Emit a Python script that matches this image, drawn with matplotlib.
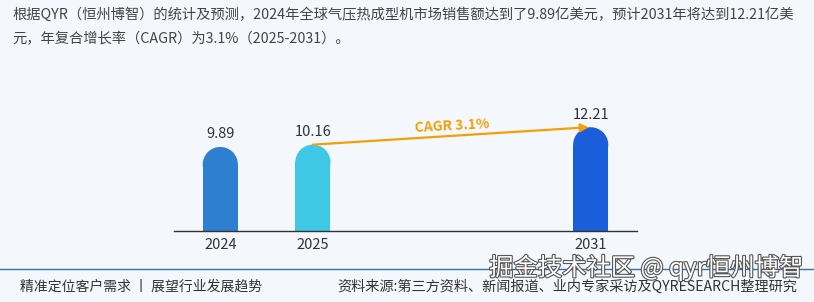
import matplotlib.pyplot as plt
from matplotlib.patches import Ellipse
import matplotlib.patheffects as pe

plt.rcParams['font.family'] = ['Noto Sans CJK SC', 'DejaVu Sans']

# data
years = ['2024', '2025', '2031']
values = [9.89, 10.16, 12.21]
slots = [0, 1, 4]  # 2031 sits three slots right of 2025
colors = ['#2f7fd1', '#3fc8e5', '#1b5edb']
cagr_label = 'CAGR 3.1%'

title = ('根据QYR（恒州博智）的统计及预测，2024年全球气压热成型机市场销售额达到了9.89亿美元，预计2031年将达到12.21亿美\n'
         '元，年复合增长率（CAGR）为3.1%（2025-2031）。')
footer_left = '精准定位客户需求 丨 展望行业发展趋势'
footer_right = '资料来源:第三方资料、新闻报道、业内专家采访及QYRESEARCH整理研究'
stamp = '掘金技术社区 @ qyr恒州博智'

W, H = 814, 302
bg = '#f4f7fb'
fig = plt.figure(figsize=(W / 100, H / 100), dpi=100, facecolor=bg)

# axes placed in pixel terms: x 174..637, baseline at y=231
ax_left, ax_right = 174, 637
ax_bottom, ax_top = 231, 112
ax = fig.add_axes([ax_left / W, 1 - ax_bottom / H,
                   (ax_right - ax_left) / W, (ax_bottom - ax_top) / H])
ax.set_facecolor('none')
ax.set_xlim(-0.5, 4.5)
ax.set_ylim(0, 14)

bar_w = 0.38
# height of the round cap in data units
px_x = (ax_right - ax_left) / 5.0
px_y = (ax_bottom - ax_top) / 14.0
cap = (bar_w * px_x / 2) / px_y

for x, v, c in zip(slots, values, colors):
    ax.bar(x, v - cap, width=bar_w, color=c, linewidth=0)
    ax.add_patch(Ellipse((x, v - cap), bar_w, 2 * cap, color=c, linewidth=0))
    ax.annotate(f'{v:.2f}', (x, v), xytext=(0, 4), textcoords='offset points',
                ha='center', va='bottom', fontsize=10.5, color='#333333')

# CAGR arrow from 2025 to 2031
ax.annotate('', xy=(slots[2] - 0.02, values[2]), xytext=(slots[1], values[1]),
            arrowprops=dict(arrowstyle='-|>', color='#f2a007', lw=1.6,
                            mutation_scale=12, shrinkA=0, shrinkB=0))
ax.text(2.5, 12.35, cagr_label, ha='center', va='center', fontsize=10,
        fontweight='bold', color='#f2a007', rotation=3)

ax.set_xticks(slots)
ax.set_xticklabels(years, fontsize=10.5, color='#333333')
ax.tick_params(axis='x', length=0, pad=5)
ax.set_yticks([])
for s in ['top', 'right', 'left']:
    ax.spines[s].set_visible(False)
ax.spines['bottom'].set_color('#333333')
ax.spines['bottom'].set_linewidth(1)

# title text
fig.text(12 / W, 1 - 7 / H, title, ha='left', va='top', fontsize=10.3,
         color='#444444', linespacing=1.95)

# footer
fig.add_artist(plt.Line2D([0, 1], [1 - 269 / H, 1 - 269 / H], color='#3a6fa6', lw=1))
fig.text(20 / W, 1 - 287 / H, footer_left, ha='left', va='center', fontsize=10, color='#333333')
fig.text(797 / W, 1 - 287 / H, footer_right, ha='right', va='center', fontsize=10.2, color='#333333')
fig.text(803 / W, 1 - 268 / H, stamp, ha='right', va='center', fontsize=17.5, color='white',
         path_effects=[pe.withStroke(linewidth=1.6, foreground='#555555')])

fig.savefig('out.png', dpi=100, facecolor=bg)
